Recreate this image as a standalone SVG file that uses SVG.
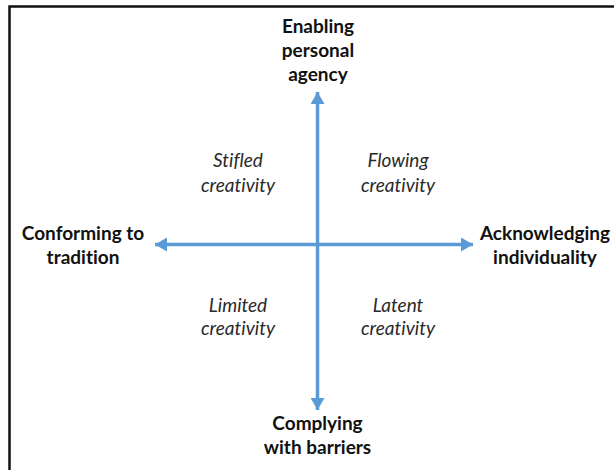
<svg xmlns="http://www.w3.org/2000/svg" width="614" height="470" viewBox="0 0 614 470">
  <style>
    text { font-variant-ligatures: none; font-feature-settings: "liga" 0, "dlig" 0; }
    .axis { stroke: #5B9BD5; stroke-width: 3.5; fill: none; }
    .pole { font-family: Lato, "Liberation Sans", sans-serif; font-weight: bold; font-size: 19px; fill: #111; text-anchor: middle; }
    .quad { font-family: Lato, "Liberation Sans", sans-serif; font-style: italic; font-size: 19px; fill: #2a2a2a; text-anchor: middle; }
  </style>
  <defs>
    <marker id="head" viewBox="0 0 12 14" refX="12" refY="7" markerWidth="12" markerHeight="14" markerUnits="userSpaceOnUse" orient="auto">
      <path d="M0,0 L12,7 L0,14 Z" fill="#5B9BD5"/>
    </marker>
  </defs>

  <!-- frame -->
  <path d="M9.5,470 L9.5,6.5 L614,6.5" fill="none" stroke="#111" stroke-width="2.5"/>

  <!-- axes -->
  <g id="connectors">
    <line class="axis" x1="317.5" y1="244.5" x2="317.5" y2="92" marker-end="url(#head)"/>
    <line class="axis" x1="317.5" y1="244.5" x2="317.5" y2="410" marker-end="url(#head)"/>
    <line class="axis" x1="317.5" y1="244.5" x2="155" y2="244.5" marker-end="url(#head)"/>
    <line class="axis" x1="317.5" y1="244.5" x2="473" y2="244.5" marker-end="url(#head)"/>
  </g>

  <!-- axis poles -->
  <g id="top-pole">
    <text class="pole" x="318" y="33">Enabling</text>
    <text class="pole" x="318" y="57">personal</text>
    <text class="pole" x="318" y="81">agency</text>
  </g>
  <g id="left-pole">
    <text class="pole" x="83" y="239.5">Conforming to</text>
    <text class="pole" x="83" y="263.5">tradition</text>
  </g>
  <g id="right-pole">
    <text class="pole" x="545" y="239.5">Acknowledging</text>
    <text class="pole" x="545" y="263.5">individuality</text>
  </g>
  <g id="bottom-pole">
    <text class="pole" x="317.5" y="429.5">Complying</text>
    <text class="pole" x="317.5" y="453.5">with barriers</text>
  </g>

  <!-- quadrants -->
  <g id="stifled">
    <text class="quad" x="238" y="167">Stifled</text>
    <text class="quad" x="238" y="191.5">creativity</text>
  </g>
  <g id="flowing">
    <text class="quad" x="398" y="167">Flowing</text>
    <text class="quad" x="398" y="191.5">creativity</text>
  </g>
  <g id="limited">
    <text class="quad" x="238" y="311.5">Limited</text>
    <text class="quad" x="238" y="335">creativity</text>
  </g>
  <g id="latent">
    <text class="quad" x="398" y="311.5">Latent</text>
    <text class="quad" x="398" y="335">creativity</text>
  </g>
</svg>
